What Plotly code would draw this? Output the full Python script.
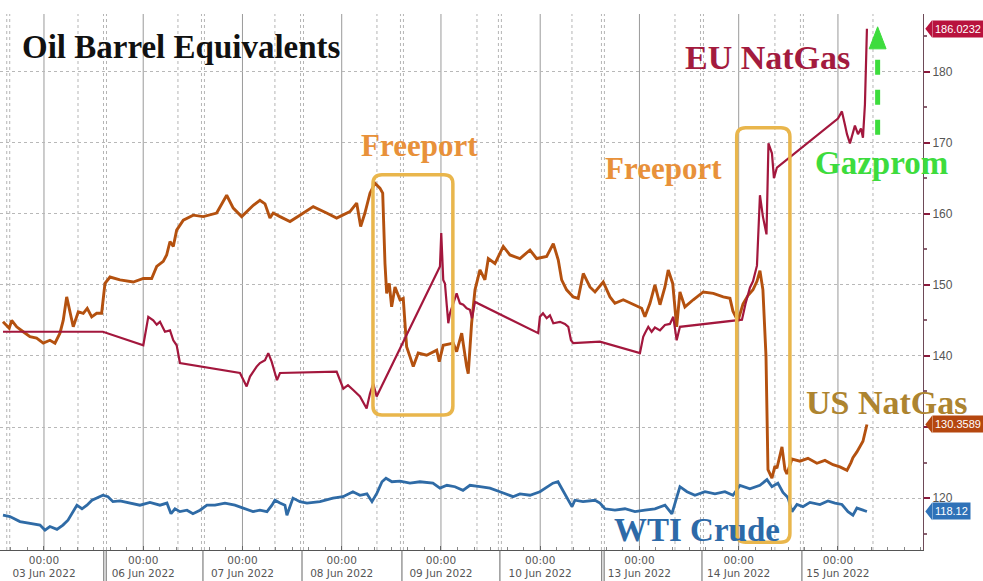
import plotly.graph_objects as go

# ---------------- data (x = trading-day axis, 0 = 00:00 03 Jun) ----------------
day_labels = ["03 Jun 2022", "06 Jun 2022", "07 Jun 2022", "08 Jun 2022", "09 Jun 2022",
              "10 Jun 2022", "13 Jun 2022", "14 Jun 2022", "15 Jun 2022"]
day_ticks = [0, 1, 2, 3, 4, 5, 6, 7, 8]
session_breaks = [-0.36, 0.615, 1.602, 2.600, 3.607, 4.594, 5.632, 6.630, 7.637]
weekend_breaks = [0.615, 5.632]
mid_lines = [0.343, 1.350, 2.327, 3.355, 4.363, 5.320, 6.358, 7.365, 8.353]

us_natgas = [(-0.413, 144.8), (-0.35, 143.9), (-0.325, 145.0), (-0.275, 144.1), (-0.209, 143.4),
    (-0.141, 142.7), (-0.074, 142.5), (-0.007, 141.8), (0.06, 142.2), (0.111, 141.8), (0.161, 143.2),
    (0.194, 145.0), (0.229, 148.3), (0.262, 146.0), (0.295, 144.1), (0.346, 146.2), (0.396, 146.0),
    (0.436, 146.7), (0.481, 145.5), (0.531, 146.0), (0.581, 146.0), (0.615, 150.2), (0.665, 151.1),
    (0.766, 150.7), (0.9, 150.4), (1.001, 150.9), (1.085, 150.9), (1.136, 152.6), (1.202, 153.3),
    (1.236, 154.2), (1.27, 156.1), (1.303, 155.4), (1.337, 157.7), (1.404, 159.1), (1.504, 159.8),
    (1.605, 159.6), (1.74, 160.1), (1.841, 162.6), (1.907, 160.8), (1.992, 159.6), (2.058, 160.5),
    (2.109, 161.2), (2.176, 161.9), (2.227, 161.4), (2.277, 159.4), (2.31, 160.1), (2.378, 159.6),
    (2.479, 158.9), (2.579, 159.8), (2.713, 161.0), (2.848, 160.1), (2.949, 159.4), (3.083, 160.3),
    (3.151, 161.5), (3.191, 158.2), (3.234, 160.1), (3.285, 162.9), (3.335, 164.3), (3.385, 163.6),
    (3.413, 162.9), (3.436, 153.0), (3.453, 148.8), (3.479, 150.2), (3.503, 146.9), (3.537, 149.7),
    (3.587, 147.9), (3.62, 148.1), (3.654, 141.3), (3.688, 139.9), (3.721, 138.5), (3.771, 140.4),
    (3.856, 140.1), (3.957, 140.8), (3.983, 139.2), (4.023, 141.5), (4.124, 141.8), (4.158, 140.6),
    (4.209, 143.2), (4.259, 138.5), (4.275, 137.5), (4.309, 144.6), (4.343, 149.3), (4.393, 152.1),
    (4.443, 150.7), (4.477, 153.7), (4.544, 153.0), (4.628, 155.4), (4.695, 154.2), (4.796, 153.7),
    (4.897, 154.9), (4.964, 153.7), (5.065, 154.0), (5.132, 155.8), (5.182, 153.5), (5.216, 150.7),
    (5.266, 149.3), (5.333, 148.3), (5.383, 148.1), (5.434, 151.6), (5.501, 149.7), (5.552, 149.0),
    (5.635, 150.4), (5.703, 148.3), (5.753, 147.4), (5.837, 147.9), (5.938, 147.2), (6.022, 146.7),
    (6.055, 145.5), (6.106, 147.4), (6.156, 150.0), (6.207, 147.2), (6.257, 149.7), (6.29, 152.1),
    (6.335, 150.2), (6.375, 144.1), (6.408, 149.0), (6.458, 146.9), (6.542, 147.9), (6.643, 149.0),
    (6.744, 148.8), (6.844, 148.3), (6.912, 148.1), (6.942, 146.3), (6.992, 144.9), (7.043, 147.3),
    (7.093, 148.5), (7.144, 149.3), (7.184, 150.5), (7.214, 152.0), (7.244, 149.3), (7.275, 140.0),
    (7.295, 124.0), (7.335, 122.8), (7.365, 124.5), (7.385, 124.2), (7.416, 126.0), (7.436, 127.2),
    (7.466, 124.0), (7.486, 123.4), (7.537, 125.5), (7.617, 125.2), (7.698, 125.6), (7.788, 124.9),
    (7.869, 125.3), (7.95, 124.7), (8.02, 124.4), (8.091, 123.9), (8.131, 125.0), (8.151, 125.7),
    (8.191, 126.5), (8.222, 127.2), (8.252, 128.0), (8.292, 130.3589)]

eu_natgas = [(-0.413, 143.4), (0.594, 143.4), (1.001, 141.5), (1.051, 145.5), (1.101, 145.0),
    (1.136, 144.4), (1.169, 144.8), (1.219, 143.4), (1.27, 143.6), (1.303, 142.2), (1.337, 141.5),
    (1.37, 139.0), (1.975, 137.6), (2.042, 135.7), (2.076, 137.1), (2.143, 138.5), (2.176, 139.0),
    (2.227, 139.4), (2.26, 140.4), (2.294, 139.2), (2.327, 137.6), (2.348, 136.6), (2.378, 137.6),
    (2.949, 137.8), (3.016, 135.4), (3.063, 135.9), (3.116, 135.2), (3.184, 134.3), (3.251, 132.6),
    (3.285, 134.7), (3.318, 136.1), (3.352, 134.3), (3.99, 152.6), (4.003, 157.3), (4.023, 150.7),
    (4.04, 150.2), (4.06, 146.9), (4.074, 144.6), (4.091, 146.0), (4.158, 148.8), (4.191, 147.4),
    (4.225, 147.2), (4.259, 146.7), (4.292, 146.5), (4.312, 145.3), (4.343, 147.6), (4.98, 143.2),
    (4.997, 145.5), (5.028, 146.0), (5.065, 145.3), (5.098, 145.7), (5.132, 144.6), (5.199, 144.8),
    (5.249, 144.5), (5.283, 144.1), (5.31, 142.2), (5.333, 141.8), (5.602, 142.0), (6.005, 140.4),
    (6.038, 142.7), (6.055, 143.2), (6.089, 144.1), (6.123, 143.4), (6.156, 144.0), (6.207, 143.6),
    (6.257, 144.35), (6.307, 144.5), (6.341, 145.5), (6.375, 142.2), (6.408, 144.1), (7.033, 145.1),
    (7.068, 147.3), (7.113, 149.6), (7.144, 150.5), (7.184, 152.7), (7.214, 162.6), (7.244, 159.6),
    (7.28, 157.1), (7.3, 169.9), (7.335, 168.5), (7.355, 165.0), (7.385, 166.5), (8.0, 173.4),
    (8.04, 174.4), (8.071, 172.5), (8.091, 171.2), (8.121, 169.9), (8.151, 171.5), (8.171, 172.4),
    (8.202, 171.2), (8.232, 172.0), (8.252, 170.7), (8.272, 175.4), (8.292, 186.0232)]

wti_crude = [(-0.413, 117.6), (-0.343, 117.4), (-0.242, 116.7), (-0.111, 116.4), (-0.04, 116.2),
    (0.01, 115.5), (0.06, 116.0), (0.131, 115.6), (0.191, 116.2), (0.242, 116.9), (0.292, 118.1),
    (0.332, 119.0), (0.383, 118.5), (0.433, 119.0), (0.484, 119.7), (0.534, 120.0), (0.594, 120.4),
    (0.645, 120.2), (0.695, 119.5), (0.766, 119.6), (0.866, 119.3), (0.967, 119.0), (1.068, 119.4),
    (1.169, 119.0), (1.239, 119.3), (1.28, 117.8), (1.32, 118.5), (1.37, 118.1), (1.441, 118.3),
    (1.501, 117.8), (1.572, 118.3), (1.642, 119.0), (1.723, 119.0), (1.824, 119.3), (1.924, 119.0),
    (2.025, 118.5), (2.106, 118.1), (2.176, 118.3), (2.247, 118.1), (2.297, 119.0), (2.327, 119.7),
    (2.378, 119.3), (2.428, 119.0), (2.448, 117.6), (2.479, 118.8), (2.509, 120.0), (2.579, 119.5),
    (2.65, 119.3), (2.781, 119.5), (2.912, 120.0), (3.013, 120.2), (3.113, 120.9), (3.184, 120.4),
    (3.254, 120.6), (3.305, 119.5), (3.355, 120.7), (3.406, 122.3), (3.446, 122.8), (3.506, 122.3),
    (3.587, 122.4), (3.688, 122.1), (3.788, 122.3), (3.919, 122.1), (3.99, 121.4), (4.06, 121.8),
    (4.141, 121.6), (4.222, 121.1), (4.292, 121.8), (4.393, 121.6), (4.494, 121.4), (4.594, 120.9),
    (4.695, 120.4), (4.725, 120.2), (4.796, 120.6), (4.897, 120.4), (4.997, 120.9), (5.068, 121.6),
    (5.128, 122.1), (5.179, 122.3), (5.219, 121.3), (5.27, 120.2), (5.32, 118.8), (5.35, 119.7),
    (5.431, 119.5), (5.552, 119.7), (5.602, 119.3), (5.652, 118.5), (5.753, 118.3), (5.854, 118.5),
    (5.955, 118.1), (6.055, 118.3), (6.156, 118.5), (6.257, 119.0), (6.327, 117.8), (6.378, 120.2),
    (6.408, 121.6), (6.479, 120.9), (6.559, 120.4), (6.66, 120.9), (6.761, 120.6), (6.861, 120.9),
    (6.942, 120.4), (7.013, 121.8), (7.113, 121.3), (7.214, 121.8), (7.285, 122.6), (7.335, 121.6),
    (7.395, 122.1), (7.446, 120.8), (7.496, 120.1), (7.537, 118.1), (7.587, 119.1), (7.647, 118.8),
    (7.718, 119.4), (7.819, 119.1), (7.899, 119.6), (7.97, 119.3), (8.04, 119.1), (8.101, 118.1),
    (8.151, 117.6), (8.191, 118.6), (8.242, 118.3), (8.292, 118.12)]

y_ticks = [120, 130, 140, 150, 160, 170, 180]
last_labels = ["186.0232", "130.3589", "118.12"]

# annotation boxes (data units)
box_freeport1 = (3.315, 4.12, 131.7, 165.5)
box_freeport2 = (6.98, 7.516, 113.8, 172.1)
gazprom_arrow = (8.40, 171.1, 183.2, 186.3)

X_RANGE = [-0.443, 8.857]
Y_RANGE = [112.7, 188.1]

C_US = "#b4510f"
C_EU = "#a3173d"
C_WTI = "#2f6ba6"
C_BOX = "#e9b64c"
C_GREEN = "#3ddc3d"
SERIF = "Liberation Serif"

fig = go.Figure()
for name, data, col, w in [("WTI Crude", wti_crude, C_WTI, 2.8),
                           ("US NatGas", us_natgas, C_US, 2.9),
                           ("EU NatGas", eu_natgas, C_EU, 2.2)]:
    xs = [p[0] for p in data]
    ys = [p[1] for p in data]
    fig.add_trace(go.Scatter(x=xs, y=ys, mode="lines", name=name,
                             line=dict(color=col, width=w), hoverinfo="skip"))

shapes = []
# vertical grid
for v in day_ticks:
    shapes.append(dict(type="line", xref="x", yref="paper", x0=v, x1=v, y0=0, y1=1,
                       line=dict(color="#9a9a9a", width=1), layer="below"))
for v in mid_lines:
    shapes.append(dict(type="line", xref="x", yref="paper", x0=v, x1=v, y0=0, y1=1,
                       line=dict(color="#b5b5b5", width=1, dash="dot"), layer="below"))
for v in session_breaks:
    for off in (-0.015, 0.015):
        shapes.append(dict(type="line", xref="x", yref="paper", x0=v + off, x1=v + off, y0=0, y1=1,
                           line=dict(color="#b5b5b5", width=1, dash="dot"), layer="below"))
# separators in x-axis label band
for v in session_breaks[1:]:
    offs = (-0.012, 0.012) if v in weekend_breaks else (0.0,)
    for off in offs:
        shapes.append(dict(type="line", xref="x", yref="paper", x0=v + off, x1=v + off, y0=0, y1=-0.06,
                           line=dict(color="#666666", width=1)))


def rounded_box(x0, x1, y0, y1, r=9):
    rx, ry = r / 99.25, r / 7.105
    return (f"M {x0+rx},{y0} L {x1-rx},{y0} Q {x1},{y0} {x1},{y0+ry} L {x1},{y1-ry} "
            f"Q {x1},{y1} {x1-rx},{y1} L {x0+rx},{y1} Q {x0},{y1} {x0},{y1-ry} "
            f"L {x0},{y0+ry} Q {x0},{y0} {x0+rx},{y0} Z")


for b in (box_freeport1, box_freeport2):
    shapes.append(dict(type="path", xref="x", yref="y", path=rounded_box(*b),
                       line=dict(color=C_BOX, width=3.5)))

gx, gy0, gy1, gtip = gazprom_arrow
shapes.append(dict(type="line", xref="x", yref="y", x0=gx, x1=gx, y0=gy0, y1=gy1,
                   line=dict(color=C_GREEN, width=5, dash="dash")))
shapes.append(dict(type="path", xref="x", yref="y",
                   path=f"M {gx-0.085},{gy1} L {gx+0.085},{gy1} L {gx},{gtip} Z",
                   fillcolor=C_GREEN, line=dict(color=C_GREEN, width=1)))


def py(v):
    return (v - Y_RANGE[0]) / (Y_RANGE[1] - Y_RANGE[0])


annotations = []
for txt, val, col in [(last_labels[0], eu_natgas[-1][1], "#b8123d"),
                      (last_labels[1], us_natgas[-1][1], "#b5470f"),
                      (last_labels[2], wti_crude[-1][1], "#2f72b8")]:
    h = 1.25
    shapes.append(dict(type="path", xref="paper", yref="paper",
                       path=f"M 1.0025,{py(val)} L 1.010,{py(val + h)} L 1.010,{py(val - h)} Z",
                       fillcolor=col, line=dict(color=col, width=0)))
    annotations.append(dict(xref="paper", yref="y", x=1.0095, y=val, xanchor="left", yanchor="middle",
                            text=txt, showarrow=False, bgcolor=col, borderpad=2,
                            font=dict(family="Liberation Sans", size=11, color="white")))

texts = [
    ("<b>Oil Barrel Equivalents</b>", 0.022, 0.938, "left", "#111111", 33),
    ("<b>EU NatGas</b>", 0.831, 0.918, "center", "#a31b3e", 34),
    ("<b>Freeport</b>", 0.454, 0.754, "center", "#e8913a", 31),
    ("<b>Freeport</b>", 0.719, 0.711, "center", "#e8913a", 31),
    ("<b>Gazprom</b>", 0.955, 0.722, "center", C_GREEN, 33),
    ("<b>US NatGas</b>", 0.961, 0.275, "center", "#ad8430", 34),
    ("<b>WTI Crude</b>", 0.755, 0.037, "center", "#2d6aa8", 33),
]
for t, x, y, xa, col, sz in texts:
    annotations.append(dict(xref="paper", yref="paper", x=x, y=y, xanchor=xa, yanchor="middle",
                            text=t, showarrow=False,
                            font=dict(family=SERIF, size=sz, color=col)))

fig.update_layout(
    width=983, height=581,
    margin=dict(l=0, r=60, t=14, b=31),
    paper_bgcolor="white", plot_bgcolor="white",
    showlegend=False,
    shapes=shapes, annotations=annotations,
    xaxis=dict(range=X_RANGE, tickmode="array", tickvals=day_ticks,
               ticktext=[f"00:00<br>{d}" for d in day_labels],
               showgrid=False, zeroline=False, showline=True, linecolor="#555555", linewidth=1,
               ticks="inside", ticklen=4, tickcolor="#666666", automargin=False,
               minor=dict(tickmode="linear", tick0=0, dtick=1 / 6, ticks="inside", ticklen=3,
                          tickcolor="#888888", showgrid=False),
               tickfont=dict(family="DejaVu Sans", size=10.5, color="#555555")),
    yaxis=dict(range=Y_RANGE, side="right", tickmode="array", tickvals=y_ticks,
               showgrid=True, gridcolor="#b8b8b8", griddash="dot", gridwidth=1,
               zeroline=False, showline=True, linecolor="#6e4a58", linewidth=1,
               ticks="outside", ticklen=6, tickwidth=2, tickcolor="#8a1a3c", automargin=False,
               minor=dict(tickmode="linear", tick0=115, dtick=10, ticks="outside", ticklen=3,
                          tickcolor="#8a6070", showgrid=False),
               tickfont=dict(family="Liberation Sans", size=12, color="#555555")),
)

fig.write_html("out.html", config={"displayModeBar": False},
               post_script="document.body.style.margin='0px';document.body.style.overflow='hidden';")
